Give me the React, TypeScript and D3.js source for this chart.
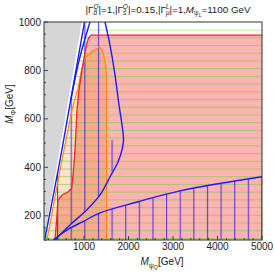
import React from "react";
import * as d3 from "d3";

const W = 274, H = 275;
const xDomain = [100, 5000];
const yDomain = [100, 1000];
const xTicks = [1000, 2000, 3000, 4000, 5000];
const yTicks = [200, 400, 600, 800, 1000];

// excluded (gray) region boundary
const grayEdge: [number, number][] = [[100, 100], [950, 1000], [100, 1000]];
// blue diagonal lines
const diagA: [number, number][] = [[120, 105], [460, 430], [760, 740], [1010, 1000]];
const diagB: [number, number][] = [[705, 680], [900, 850], [1134, 1000]];
// blue closed loop (right side)
const loopCurve: [number, number][] = [
  [1471, 1000], [1583, 905], [1696, 781], [1786, 657], [1853, 575], [1887, 513],
  [1853, 472], [1763, 422], [1583, 360], [1359, 286], [1060, 224], [684, 162], [347, 100],
];
// lower blue curve
const lowerCurve: [number, number][] = [
  [310, 100], [610, 141], [977, 176], [1360, 212], [2213, 258], [3157, 303], [5000, 361],
];
// red contour (left boundary of pink region)
const redCurve: [number, number][] = [
  [347, 100], [392, 203], [415, 265], [505, 286], [640, 298], [723, 315], [763, 389],
  [797, 472], [842, 637], [887, 719], [954, 802], [1010, 864], [1055, 905], [1100, 934],
  [1156, 946], [5000, 946],
];
// orange contour
const orangeCurve: [number, number][] = [
  [167, 100], [460, 389], [729, 637], [864, 727], [932, 794], [1022, 851], [1089, 864],
  [1134, 868], [1179, 880], [1246, 884], [1291, 888], [1336, 897], [1370, 893], [1404, 884],
  [1437, 868], [1471, 835], [1505, 781], [1509, 100],
];
// green hatched region
const greenTop = 969;
const greenCorner: [number, number][] = [[100, 160], [130, 125], [167, 100]];
// vertical-hatch limit inside the loop
const hatchCut = 1472;

export default function App() {
  const x = d3.scaleLinear().domain(xDomain).range([44, 262]);
  const y = d3.scaleLinear().domain(yDomain).range([240, 22]);
  const lin = d3.line<[number, number]>().x(d => x(d[0])).y(d => y(d[1]));
  const smooth = d3.line<[number, number]>().x(d => x(d[0])).y(d => y(d[1])).curve(d3.curveCatmullRom);

  const redPoly = lin([...redCurve, [5000, 100]] as [number, number][]) + "Z";
  const orangePoly = lin(orangeCurve) + "Z";
  const greenRegion = lin([
    [167, 100], [130, 125], [120, 140], [460, 430], [760, 740], [985, greenTop],
    [5000, greenTop], [5000, 100],
  ] as [number, number][]) + "Z";
  const loopLower = loopCurve.slice(5);
  const hatchRegion =
    lin([...diagA, [hatchCut, 1000], [hatchCut, loopLower[0][1]], ...loopLower, [120, 105]] as [number, number][]) + "Z " +
    lin([...lowerCurve, [5000, 100]] as [number, number][]) + "Z";

  const xMinor = d3.range(200, 5001, 200);
  const yMinor = d3.range(100, 1001, 50);
  const vStep = (x(5000) - x(100)) / 16;
  const hStep = 7.72;

  return (
    <svg width={W} height={H} style={{ position: "absolute", left: 0, top: 0 }}
      fontFamily="'Liberation Sans', Arial, sans-serif">
      <defs>
        <clipPath id="plot"><rect x={44} y={22} width={218} height={218} /></clipPath>
        <clipPath id="redClip"><path d={redPoly} /></clipPath>
        <clipPath id="greenClip"><path d={greenRegion} /></clipPath>
        <clipPath id="hatchClip"><path d={hatchRegion} /></clipPath>
        <pattern id="hpat" patternUnits="userSpaceOnUse" x={0} y={30 - 0.5} width={20} height={hStep}>
          <line x1={0} x2={20} y1={0.5} y2={0.5} stroke="rgb(110,210,50)" strokeOpacity={0.6} strokeWidth={1.2} />
        </pattern>
        <pattern id="vpat" patternUnits="userSpaceOnUse" x={44 - 0.6} y={0} width={vStep} height={20}>
          <line x1={0.6} x2={0.6} y1={0} y2={20} stroke="rgb(70,40,225)" strokeOpacity={0.9} strokeWidth={1.1} />
        </pattern>
      </defs>
      <rect x={44} y={22} width={218} height={218} fill="white" />
      <g clipPath="url(#plot)">
        <path d={lin(grayEdge) + "Z"} fill="#d6d6d6" />
        <path d={orangePoly} fill="#fde3cc" />
        <path d={redPoly} fill="#ffb3b3" />
        <g clipPath="url(#redClip)">
          <path d={orangePoly} fill="#f9a98c" />
        </g>
        <rect x={44} y={22} width={218} height={218} fill="url(#hpat)" clipPath="url(#greenClip)" />
        <rect x={44} y={22} width={218} height={218} fill="url(#vpat)" clipPath="url(#hatchClip)" />
        <path d={smooth(greenCorner) || ""} fill="none" stroke="#33dd33" strokeWidth={1.2} />
        <path d={lin(orangeCurve) || ""} fill="none" stroke="#ff8a10" strokeWidth={1.2} />
        <path d={lin(redCurve) || ""} fill="none" stroke="#ff2222" strokeWidth={1.3} />
        <path d={smooth(diagA) || ""} fill="none" stroke="#1a1aff" strokeWidth={1.4} />
        <path d={smooth(diagB) || ""} fill="none" stroke="#1a1aff" strokeWidth={1.4} />
        <path d={smooth(loopCurve) || ""} fill="none" stroke="#1a1aff" strokeWidth={1.4} />
        <path d={smooth(lowerCurve) || ""} fill="none" stroke="#1a1aff" strokeWidth={1.4} />
      </g>
      <g stroke="#222" strokeWidth={0.8}>
        {xMinor.map(v => (
          <line key={"xm" + v} x1={x(v)} x2={x(v)} y1={240} y2={240 - (v % 1000 === 0 ? 4 : 2)} />
        ))}
        {yMinor.map(v => (
          <line key={"ym" + v} x1={44} x2={44 + (v % 200 === 0 ? 4 : 2)} y1={y(v)} y2={y(v)} />
        ))}
      </g>
      <rect x={44} y={22} width={218} height={218} fill="none" stroke="#333" strokeWidth={1} />
      <g fontSize={10} fill="#222">
        {xTicks.map(v => (
          <text key={"xt" + v} x={x(v)} y={249.5} textAnchor="middle">{v}</text>
        ))}
        {yTicks.map(v => (
          <text key={"yt" + v} x={41} y={y(v) + 3.6} textAnchor="end">{v}</text>
        ))}
      </g>
      <text x={162} y={265} fontSize={10} textAnchor="middle" fill="#222">
        <tspan fontStyle="italic">M</tspan>
        <tspan fontSize={7} dy={2.5}>ψ</tspan>
        <tspan fontSize={5.5} fontStyle="italic" dy={1.5}>Q</tspan>
        <tspan dy={-4}>[GeV]</tspan>
      </text>
      <text transform="translate(13,104) rotate(-90)" fontSize={10} textAnchor="middle" fill="#222">
        <tspan fontStyle="italic">M</tspan>
        <tspan fontSize={7} dy={2.5}>Φ</tspan>
        <tspan dy={-2.5}>[GeV]</tspan>
      </text>
      <text x={168} y={12.5} fontSize={9.8} textAnchor="middle" fill="#222">
        <tspan>|Γ</tspan>
        <tspan fontSize={6.5} fontStyle="italic" dy={2.5}>b</tspan>
        <tspan fontSize={6.5} fontStyle="italic" dx={-3.6} dy={-6.5}>Q</tspan>
        <tspan dy={4}>|=1,|Γ</tspan>
        <tspan fontSize={6.5} fontStyle="italic" dy={2.5}>s</tspan>
        <tspan fontSize={6.5} fontStyle="italic" dx={-3.3} dy={-6.5}>Q</tspan>
        <tspan dy={4}>|=0.15,|Γ</tspan>
        <tspan fontSize={6.5} fontStyle="italic" dy={2.5}>μ</tspan>
        <tspan fontSize={6.5} fontStyle="italic" dx={-3.7} dy={-6.5}>L</tspan>
        <tspan dy={4}>|=1,</tspan>
        <tspan fontStyle="italic">M</tspan>
        <tspan fontSize={6.5} dy={2.5}>ψ</tspan>
        <tspan fontSize={5} fontStyle="italic" dy={1.5}>L</tspan>
        <tspan dy={-4}>=1100 GeV</tspan>
      </text>
    </svg>
  );
}
